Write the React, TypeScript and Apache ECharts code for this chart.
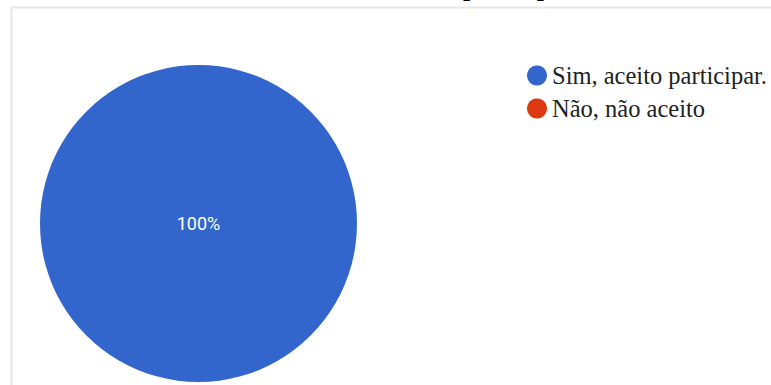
import React, { useEffect, useRef } from "react";
import * as echarts from "echarts";

const categories = ["Sim, aceito participar.", "Não, não aceito"];
const values = [100, 0];
const colors = ["#3366cc", "#dc3912"];
const titleText = "participar";

export default function App() {
  const ref = useRef<HTMLDivElement>(null);
  useEffect(() => {
    if (!ref.current) return;
    const chart = echarts.init(ref.current, undefined, { renderer: "svg" });
    chart.setOption({
      animation: false,
      backgroundColor: "#ffffff",
      color: colors,
      legend: {
        orient: "vertical",
        left: 522,
        top: 58,
        padding: 5,
        icon: "circle",
        itemWidth: 20,
        itemHeight: 20,
        itemGap: 8,
        selectedMode: false,
        data: categories,
        textStyle: {
          fontFamily: "Liberation Serif",
          fontSize: 24.5,
          color: "#222222",
        },
      },
      graphic: [
        {
          type: "line",
          shape: { x1: 11, y1: 7.5, x2: 771, y2: 7.5 },
          style: { stroke: "#e6e6e6", lineWidth: 2 },
          silent: true,
        },
        {
          type: "line",
          shape: { x1: 11.5, y1: 7, x2: 11.5, y2: 385 },
          style: { stroke: "#e6e6e6", lineWidth: 2 },
          silent: true,
        },
        {
          type: "text",
          x: 463,
          y: 0.5,
          silent: true,
          style: {
            text: titleText,
            fontFamily: "Liberation Serif",
            fontWeight: "bold",
            fontSize: 26,
            fill: "#000000",
            align: "left",
            verticalAlign: "bottom",
          },
        },
      ],
      series: [
        {
          type: "pie",
          center: [198.5, 223.5],
          radius: 158.5,
          startAngle: 90,
          clockwise: true,
          avoidLabelOverlap: false,
          label: {
            show: true,
            position: "center",
            formatter: "{d}%",
            color: "#ffffff",
            fontFamily: "Roboto",
            fontSize: 18,
          },
          labelLine: { show: false },
          emphasis: { disabled: true },
          data: categories.map((name, i) => ({
            name,
            value: values[i],
            label: { show: values[i] > 0 },
          })),
        },
      ],
    });
    return () => chart.dispose();
  }, []);
  return (
    <div
      ref={ref}
      style={{ position: "fixed", left: 0, top: 0, width: 771, height: 385 }}
    />
  );
}
